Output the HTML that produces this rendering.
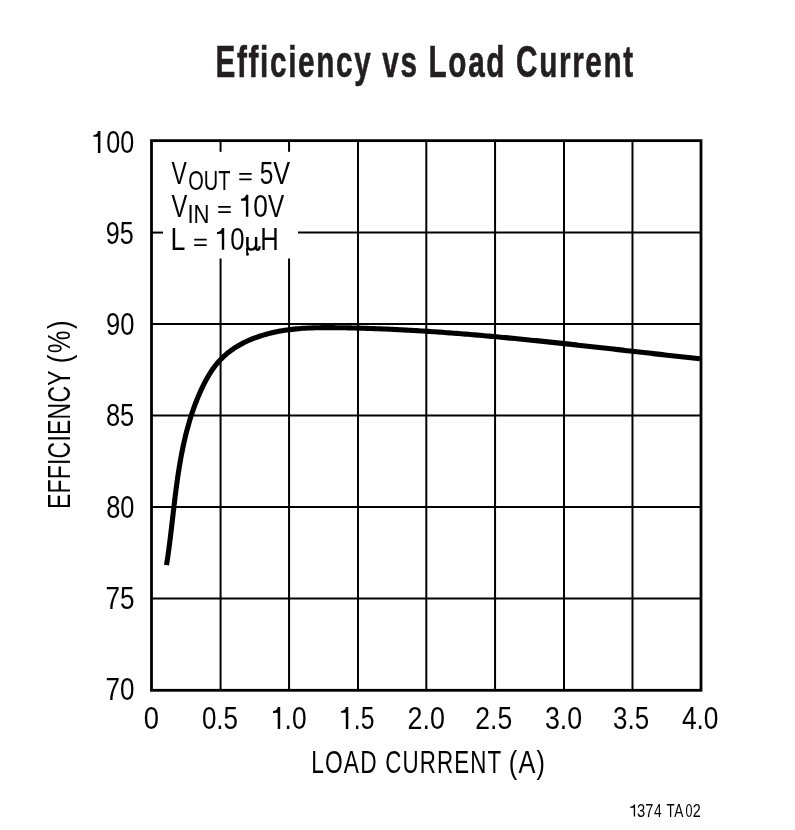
<!DOCTYPE html>
<html><head><meta charset="utf-8"><style>
html,body{margin:0;padding:0;background:#fff;}
svg{display:block;will-change:transform;}
text{font-family:"Liberation Sans",sans-serif;font-kerning:none;}
</style></head><body>
<svg width="795" height="830" viewBox="0 0 795 830">
<rect width="795" height="830" fill="#fff"/>
<text transform="translate(215.5,77) scale(0.66,1)" font-size="45" font-weight="bold" fill="#231f20" stroke="#231f20" stroke-width="0.6" letter-spacing="2.52">Efficiency vs Load Current</text>
<g stroke="#000" stroke-width="2" fill="none">
<line x1="220.57" y1="140.5" x2="220.57" y2="151.8"/>
<line x1="220.57" y1="258.6" x2="220.57" y2="690.0"/>
<line x1="289.06" y1="140.5" x2="289.06" y2="151.8"/>
<line x1="289.06" y1="258.6" x2="289.06" y2="690.0"/>
<line x1="357.99" y1="140.5" x2="357.99" y2="690.0"/>
<line x1="426.30" y1="140.5" x2="426.30" y2="690.0"/>
<line x1="495.06" y1="140.5" x2="495.06" y2="690.0"/>
<line x1="563.99" y1="140.5" x2="563.99" y2="690.0"/>
<line x1="632.48" y1="140.5" x2="632.48" y2="690.0"/>
<line x1="151.5" y1="232.57" x2="163" y2="232.57"/>
<line x1="298" y1="232.57" x2="701.0" y2="232.57"/>
<line x1="151.5" y1="323.90" x2="701.0" y2="323.90"/>
<line x1="151.5" y1="415.50" x2="701.0" y2="415.50"/>
<line x1="151.5" y1="507.01" x2="701.0" y2="507.01"/>
<line x1="151.5" y1="598.50" x2="701.0" y2="598.50"/>
</g>
<rect x="151.5" y="140.65" width="549.5" height="549.65" fill="none" stroke="#000" stroke-width="2.8"/>
<path d="M166.52 565.07 L166.89 562.75 L167.24 560.43 L167.58 558.10 L167.92 555.78 L168.25 553.45 L168.57 551.12 L168.89 548.79 L169.19 546.45 L169.50 544.12 L169.80 541.78 L170.09 539.44 L170.38 537.11 L170.66 534.77 L170.94 532.42 L171.22 530.08 L171.50 527.74 L171.77 525.40 L172.04 523.05 L172.31 520.71 L172.58 518.36 L172.85 516.02 L173.12 513.68 L173.39 511.33 L173.67 508.99 L173.94 506.64 L174.22 504.30 L174.50 501.95 L174.78 499.61 L175.06 497.27 L175.35 494.93 L175.65 492.59 L175.95 490.25 L176.25 487.91 L176.56 485.57 L176.88 483.24 L177.20 480.90 L177.53 478.57 L177.87 476.24 L178.22 473.91 L178.57 471.58 L178.93 469.26 L179.31 466.93 L179.69 464.61 L180.09 462.29 L180.49 459.98 L180.91 457.66 L181.34 455.35 L181.78 453.04 L182.23 450.74 L182.70 448.43 L183.18 446.13 L183.68 443.84 L184.19 441.55 L184.72 439.26 L185.26 436.97 L185.81 434.69 L186.39 432.41 L186.98 430.13 L187.59 427.86 L188.22 425.60 L188.86 423.33 L189.52 421.08 L190.21 418.82 L190.91 416.57 L191.64 414.33 L192.38 412.09 L193.15 409.85 L193.93 407.62 L194.74 405.40 L195.58 403.18 L196.43 400.98 L197.31 398.78 L198.21 396.59 L199.14 394.41 L200.09 392.24 L201.07 390.09 L202.07 387.95 L203.10 385.83 L204.16 383.72 L205.24 381.63 L206.35 379.56 L207.49 377.51 L208.66 375.48 L209.87 373.48 L211.12 371.50 L212.41 369.57 L213.76 367.66 L215.15 365.80 L216.61 363.99 L218.12 362.22 L219.68 360.49 L221.30 358.82 L222.97 357.19 L224.69 355.60 L226.45 354.07 L228.26 352.59 L230.11 351.16 L232.01 349.78 L233.94 348.45 L235.91 347.17 L237.92 345.95 L239.96 344.77 L242.04 343.64 L244.14 342.56 L246.27 341.53 L248.42 340.55 L250.59 339.61 L252.79 338.71 L255.00 337.86 L257.23 337.05 L259.47 336.28 L261.73 335.56 L263.99 334.87 L266.26 334.22 L268.54 333.61 L270.82 333.04 L273.11 332.51 L275.40 332.01 L277.70 331.54 L280.00 331.10 L282.31 330.70 L284.62 330.33 L286.94 329.99 L289.26 329.67 L291.58 329.39 L293.91 329.13 L296.24 328.89 L298.58 328.68 L300.91 328.49 L303.25 328.33 L305.60 328.18 L307.94 328.05 L310.29 327.95 L312.64 327.86 L314.99 327.78 L317.35 327.72 L319.70 327.68 L322.06 327.65 L324.42 327.63 L326.78 327.62 L329.14 327.62 L331.50 327.63 L333.86 327.65 L336.22 327.68 L338.58 327.71 L340.94 327.74 L343.30 327.78 L345.66 327.82 L348.02 327.87 L350.38 327.92 L352.74 327.97 L355.10 328.02 L357.46 328.08 L359.82 328.15 L362.17 328.21 L364.53 328.28 L366.89 328.36 L369.25 328.43 L371.60 328.51 L373.96 328.60 L376.32 328.68 L378.67 328.77 L381.03 328.87 L383.39 328.96 L385.74 329.06 L388.10 329.17 L390.45 329.27 L392.81 329.38 L395.16 329.49 L397.51 329.61 L399.87 329.73 L402.22 329.85 L404.58 329.97 L406.93 330.10 L409.28 330.23 L411.63 330.36 L413.99 330.50 L416.34 330.63 L418.69 330.77 L421.04 330.92 L423.39 331.06 L425.75 331.21 L428.10 331.36 L430.45 331.52 L432.80 331.68 L435.15 331.83 L437.50 332.00 L439.85 332.16 L442.20 332.33 L444.55 332.50 L446.90 332.67 L449.25 332.84 L451.60 333.02 L453.95 333.20 L456.30 333.38 L458.64 333.56 L460.99 333.75 L463.34 333.93 L465.69 334.12 L468.04 334.31 L470.38 334.51 L472.73 334.70 L475.08 334.90 L477.43 335.10 L479.77 335.30 L482.12 335.51 L484.47 335.71 L486.81 335.92 L489.16 336.13 L491.51 336.34 L493.85 336.55 L496.20 336.77 L498.54 336.98 L500.89 337.20 L503.23 337.42 L505.58 337.64 L507.93 337.87 L510.27 338.09 L512.62 338.32 L514.96 338.54 L517.30 338.77 L519.65 339.00 L521.99 339.24 L524.34 339.47 L526.68 339.71 L529.03 339.94 L531.37 340.18 L533.71 340.42 L536.06 340.66 L538.40 340.90 L540.75 341.14 L543.09 341.39 L545.43 341.63 L547.78 341.88 L550.12 342.12 L552.46 342.37 L554.81 342.62 L557.15 342.87 L559.49 343.12 L561.83 343.37 L564.18 343.63 L566.52 343.88 L568.86 344.13 L571.20 344.39 L573.55 344.65 L575.89 344.90 L578.23 345.16 L580.57 345.42 L582.92 345.68 L585.26 345.94 L587.60 346.20 L589.94 346.46 L592.28 346.72 L594.63 346.98 L596.97 347.24 L599.31 347.50 L601.65 347.77 L603.99 348.03 L606.33 348.29 L608.68 348.56 L611.02 348.82 L613.36 349.09 L615.70 349.35 L618.04 349.62 L620.38 349.88 L622.73 350.15 L625.07 350.41 L627.41 350.68 L629.75 350.94 L632.09 351.21 L634.43 351.48 L636.78 351.74 L639.12 352.01 L641.46 352.27 L643.80 352.54 L646.14 352.80 L648.48 353.07 L650.82 353.33 L653.17 353.60 L655.51 353.86 L657.85 354.13 L660.19 354.39 L662.53 354.65 L664.87 354.92 L667.22 355.18 L669.56 355.44 L671.90 355.70 L674.24 355.96 L676.58 356.22 L678.92 356.48 L681.27 356.74 L683.61 357.00 L685.95 357.26 L688.29 357.52 L690.63 357.77 L692.98 358.03 L695.32 358.29 L697.66 358.54 L700.00 358.79" fill="none" stroke="#000" stroke-width="5.1" stroke-linejoin="round"/>
<g fill="#000"><path d="M100.40 130.90 L100.40 152.90 L97.90 152.90 L97.90 136.75 L93.50 136.85 L93.50 134.94 C96.02 134.94 97.50 133.73 98.10 130.90 Z"/>
<text transform="translate(106.32,152.90) scale(0.7931,1)" font-size="31.7">00</text>
<text transform="translate(105.72,244.10) scale(0.7952,1)" font-size="31.7">95</text>
<text transform="translate(106.10,334.90) scale(0.8053,1)" font-size="31.7">90</text>
<text transform="translate(105.89,426.10) scale(0.8049,1)" font-size="31.7">85</text>
<text transform="translate(106.19,517.90) scale(0.8026,1)" font-size="31.7">80</text>
<text transform="translate(105.46,609.20) scale(0.8234,1)" font-size="31.7">75</text>
<text transform="translate(105.47,700.40) scale(0.8211,1)" font-size="31.7">70</text>
<text transform="translate(143.73,728.90) scale(0.8645,1)" font-size="31.7">0</text>
<text transform="translate(201.89,728.90) scale(0.8193,1)" font-size="31.7">0.5</text>
<text transform="translate(407.55,728.90) scale(0.8464,1)" font-size="31.7">2.0</text>
<text transform="translate(475.37,728.90) scale(0.8361,1)" font-size="31.7">2.5</text>
<text transform="translate(544.98,728.90) scale(0.8433,1)" font-size="31.7">3.0</text>
<text transform="translate(613.11,728.90) scale(0.8187,1)" font-size="31.7">3.5</text>
<text transform="translate(681.90,728.90) scale(0.8313,1)" font-size="31.7">4.0</text>
<path d="M280.20 707.00 L280.20 728.90 L277.70 728.90 L277.70 712.83 L273.00 712.93 L273.00 711.02 C275.51 711.02 277.30 709.81 277.90 707.00 Z"/>
<text transform="translate(284.60,728.90) scale(0.8294,1)" font-size="31.7">.0</text>
<path d="M348.30 706.90 L348.30 728.90 L345.80 728.90 L345.80 712.75 L341.10 712.85 L341.10 710.94 C343.62 710.94 345.40 709.73 346.00 706.90 Z"/>
<text transform="translate(353.85,728.90) scale(0.7789,1)" font-size="31.7">.5</text></g>
<g fill="#000"><text transform="translate(171.40,184.00) scale(0.7283,1)" font-size="31.5">V</text>
<text transform="translate(188.15,190.10) scale(0.7405,1)" font-size="27">OUT</text>
<rect x="239.20" y="172.90" width="12.50" height="1.8" rx="0.4"/><rect x="239.20" y="178.40" width="12.50" height="1.8" rx="0.4"/>
<text transform="translate(259.72,184.00) scale(0.7767,1)" font-size="31.5">5</text>
<text transform="translate(273.19,184.00) scale(0.8006,1)" font-size="31.5">V</text>
<text transform="translate(171.40,216.70) scale(0.7524,1)" font-size="31.5">V</text>
<text transform="translate(187.46,223.00) scale(0.8519,1)" font-size="26">IN</text>
<rect x="218.20" y="205.90" width="12.60" height="1.8" rx="0.4"/><rect x="218.20" y="211.30" width="12.60" height="1.8" rx="0.4"/>
<path d="M248.30 194.80 L248.30 216.80 L245.90 216.80 L245.90 200.65 L241.00 200.75 L241.00 198.84 C243.52 198.84 245.50 197.63 246.10 194.80 Z"/>
<text transform="translate(253.17,216.70) scale(0.8368,1)" font-size="31.5">0</text>
<text transform="translate(267.89,216.70) scale(0.7717,1)" font-size="31.5">V</text>
<text transform="translate(170.60,250.00) scale(0.8496,1)" font-size="31.5">L</text>
<rect x="194.20" y="238.75" width="12.50" height="1.8" rx="0.4"/><rect x="194.20" y="244.25" width="12.50" height="1.8" rx="0.4"/>
<path d="M224.20 228.10 L224.20 249.80 L221.80 249.80 L221.80 233.87 L217.00 233.97 L217.00 232.08 C219.49 232.08 221.40 230.89 222.00 228.10 Z"/>
<text transform="translate(230.19,250.00) scale(0.8168,1)" font-size="31.5">0</text>
<g fill="none" stroke="#000" stroke-linecap="butt"><path d="M247.4 236.9 L247.4 245.2 C247.4 248.3 249.2 249.6 251.3 249.6 C253.4 249.6 255.2 248.2 256.1 245.6" stroke-width="2.5"/><path d="M256.1 236.9 L256.1 247.4 C256.1 249.0 256.9 249.7 257.9 249.7 C258.9 249.7 259.5 248.6 259.6 246.3" stroke-width="2.4"/><path d="M246.9 248.0 C247.0 250.5 246.9 252.0 247.4 254.0" stroke-width="1.8"/></g><ellipse cx="247.5" cy="254.2" rx="1.3" ry="1.6"/>
<text transform="translate(260.30,250.00) scale(0.8127,1)" font-size="31.5">H</text></g>
<g fill="#000"><text transform="translate(311.23,773.00) scale(0.7108,1)" font-size="32" letter-spacing="1.6">LOAD</text><text transform="translate(385.27,773.00) scale(0.6983,1)" font-size="32" letter-spacing="1.6">CURRENT</text><text transform="translate(508.73,773.00) scale(0.7926,1)" font-size="32" letter-spacing="1.6">(A)</text></g>
<text transform="translate(70,509) rotate(-90) scale(0.72,1)" font-size="32" letter-spacing="0.25">EFFICIENCY</text>
<text transform="translate(70,363.2) rotate(-90) scale(0.8,1)" font-size="32" letter-spacing="1.8">(%)</text>
<g fill="#000"><path d="M635.10 804.50 L635.10 816.60 L633.75 816.60 L633.75 807.72 L630.10 807.77 L630.10 806.72 C631.49 806.72 633.53 806.05 633.86 804.50 Z"/><text transform="translate(637.04,816.60) scale(0.8389,1)" font-size="17.6">3</text><text transform="translate(645.36,816.60) scale(0.8249,1)" font-size="17.6">7</text><text transform="translate(653.88,816.60) scale(0.7893,1)" font-size="17.6">4</text><text transform="translate(666.40,816.60) scale(0.7637,1)" font-size="17.6">T</text><text transform="translate(674.27,816.60) scale(0.7798,1)" font-size="17.6">A</text><text transform="translate(685.41,816.60) scale(0.7132,1)" font-size="17.6">0</text><text transform="translate(692.67,816.60) scale(0.8232,1)" font-size="17.6">2</text></g>
</svg>
</body></html>
